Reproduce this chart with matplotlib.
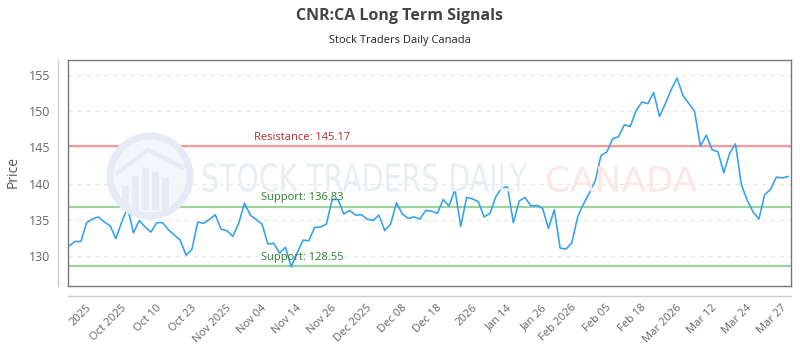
import matplotlib
matplotlib.use("Agg")
import matplotlib.pyplot as plt
from matplotlib.lines import Line2D
from matplotlib.patches import Circle, Rectangle, Polygon, PathPatch
from matplotlib.textpath import TextPath
from matplotlib.font_manager import FontProperties
import matplotlib.transforms as mtransforms

# price series (one point per trading day)
prices = [
    131.4, 132.0, 132.0, 134.6, 135.1, 135.4, 134.7, 134.2, 132.4, 134.7,
    136.7, 133.2, 134.9, 134.0, 133.3, 134.6, 134.6, 133.6, 132.9, 132.2,
    130.1, 130.9, 134.7, 134.5, 135.05, 135.7, 133.7, 133.5, 132.7, 134.5,
    137.3, 135.65, 135.05, 134.4, 131.65, 131.75, 130.4, 131.2, 128.5, 130.4,
    132.2, 132.1, 133.95, 134.0, 134.4, 137.8, 137.8, 135.8, 136.3, 135.65,
    135.7, 135.1, 134.9, 135.65, 133.5, 134.4, 137.35, 135.8, 135.2, 135.4,
    135.1, 136.3, 136.2, 135.9, 137.8, 136.9, 139.2, 134.1, 138.1, 137.9,
    137.5, 135.4, 135.9, 138.2, 139.4, 139.55, 134.6, 137.6, 138.1, 136.9,
    137.0, 136.6, 133.8, 136.4, 131.1, 130.95, 131.8, 135.4, 137.2, 138.7,
    140.4, 143.9, 144.4, 146.2, 146.5, 148.15, 147.9, 150.1, 151.3, 151.05,
    152.6, 149.3, 151.05, 153.0, 154.6, 152.2, 151.1, 150.0, 145.2, 146.7,
    144.7, 144.4, 141.5, 144.2, 145.5, 139.9, 137.7, 136.1, 135.1, 138.5,
    139.2, 140.9, 140.8, 141.0,
]

tick_idx = [3, 9, 15, 21, 27, 33, 39, 45, 51, 57, 63, 69, 75, 81, 86, 92,
            98, 104, 110, 116, 122]
tick_labels = ["2025", "Oct 2025", "Oct 10", "Oct 23", "Nov 2025", "Nov 04",
               "Nov 14", "Nov 26", "Dec 2025", "Dec 08", "Dec 18", "2026",
               "Jan 14", "Jan 26", "Feb 2026", "Feb 05", "Feb 18", "Mar 2026",
               "Mar 12", "Mar 24", "Mar 27"]

resistance = [145.17]
support = [136.83, 128.55]
yticks = [130, 135, 140, 145, 150, 155]

plt.rcParams["font.family"] = ["Open Sans", "DejaVu Sans"]

fig = plt.figure(figsize=(8, 3.5), dpi=100)
ax = fig.add_axes([0.0846, 0.1829, 0.9038, 0.6457])
ax.patch.set_alpha(0)


def squeezed_text(s, x0, x1, ybot, h, color):
    # text drawn as a path, stretched to fit a pixel box (watermark)
    tp = TextPath((0, 0), s, size=1, prop=FontProperties(family="DejaVu Sans"))
    bb = tp.get_extents()
    tr = (mtransforms.Affine2D().translate(-bb.x0, -bb.y0)
          .scale((x1 - x0) / bb.width / 100, h / bb.height / 100)
          .translate(x0 / 100, (350 - ybot) / 100))
    fig.patches.append(PathPatch(tr.transform_path(tp), transform=fig.dpi_scale_trans,
                                 facecolor=color, edgecolor="none", zorder=0))


# watermark
logo_col = "#e4ebf4"
fig.patches.append(Circle((1.50, 1.74), 0.40, transform=fig.dpi_scale_trans,
                          facecolor="#f3f6fa", edgecolor=logo_col, lw=5, zorder=0))
for bx, bh in [(1.22, 0.24), (1.32, 0.34), (1.42, 0.42), (1.52, 0.38), (1.62, 0.32)]:
    fig.patches.append(Rectangle((bx, 1.40), 0.07, bh, transform=fig.dpi_scale_trans,
                                 facecolor=logo_col, edgecolor="none", zorder=0))
fig.patches.append(Polygon([(1.16, 1.76), (1.48, 2.00), (1.84, 1.82)], closed=False,
                           fill=False, edgecolor=logo_col, lw=3,
                           transform=fig.dpi_scale_trans, zorder=0))
squeezed_text("STOCK TRADERS DAILY", 203, 527, 192, 29, "#e9eef4")
squeezed_text("CANADA", 547, 697, 192, 26, "#fde6e6")

ax.plot(range(len(prices)), prices, color="#33a0ee", lw=1.15, zorder=3)

blend = mtransforms.blended_transform_factory(ax.transAxes, ax.transData)
for r in resistance:
    ax.axhline(r, color="#f29b9b", lw=1.6, zorder=2)
    ax.text(0.324, r + 0.45, "Resistance: %.2f" % r, transform=blend,
            color="#b22b2b", fontsize=8, ha="center", va="bottom")
for s in support:
    ax.axhline(s, color="#9dd49d", lw=1.6, zorder=2)
    ax.text(0.324, s + 0.45, "Support: %.2f" % s, transform=blend,
            color="#2e7d32", fontsize=8, ha="center", va="bottom")

ax.set_xlim(-0.25, len(prices) - 1 + 0.45)
ax.set_ylim(125.85, 157.1)
ax.set_yticks(yticks)
ax.set_xticks([i + 0.5 for i in tick_idx])
ax.set_xticklabels(tick_labels, rotation=45, ha="right", va="center",
                   rotation_mode="anchor")
ax.tick_params(axis="x", length=0, pad=14.5, labelsize=8, colors="#666666")
ax.tick_params(axis="y", length=0, pad=12.5, labelsize=9, colors="#666666")
ax.grid(axis="y", color="#e8e8e8", lw=0.8, ls=(0, (4, 4)))
ax.set_axisbelow(True)
for sp in ax.spines.values():
    sp.set_color("#777777")
    sp.set_linewidth(1.0)

ax.set_ylabel("Price", fontsize=10, color="#555555")
ax.yaxis.set_label_coords(-0.0646, 0.504)

# outer axis lines
fig.add_artist(Line2D([57.7 / 800, 57.7 / 800], [1 - 60 / 350, 1 - 286 / 350],
                      color="#cccccc", lw=1))
fig.add_artist(Line2D([67.7 / 800, 790.7 / 800], [1 - 296 / 350, 1 - 296 / 350],
                      color="#cccccc", lw=1))

fig.text(0.5, 1 - 16 / 350, "CNR:CA Long Term Signals", ha="center", va="center",
         fontsize=11.5, fontweight="bold", color="#444444")
fig.text(0.5, 1 - 40 / 350, "Stock Traders Daily Canada", ha="center", va="center",
         fontsize=8, color="#222222")

fig.savefig("out.png", dpi=100)
